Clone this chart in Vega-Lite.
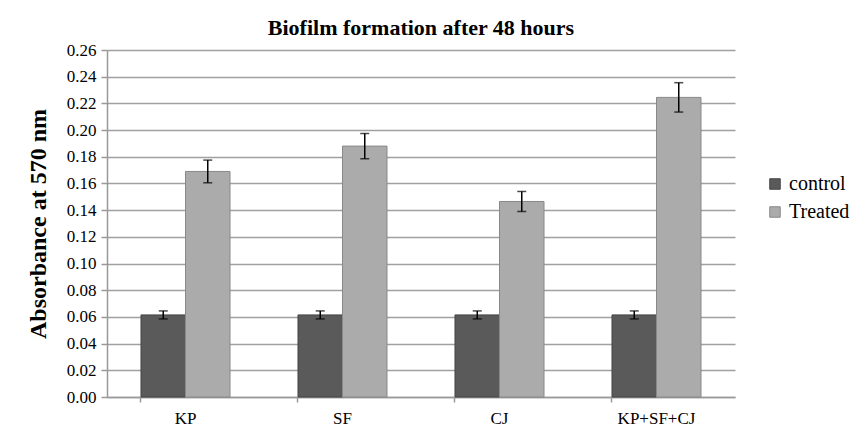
{
  "$schema": "https://vega.github.io/schema/vega-lite/v6.json",
  "width": 628,
  "height": 347,
  "padding": {"left": 26, "top": 17, "right": 5, "bottom": 5},
  "background": "white",
  "title": {"text": "Biofilm formation after 48 hours", "font": "Liberation Serif", "fontSize": 22, "fontWeight": "bold", "color": "#000", "offset": 1},
  "data": {"values": [
    {"group": "KP", "series": "control", "value": 0.0615, "lo": 0.0585, "hi": 0.0645},
    {"group": "KP", "series": "Treated", "value": 0.169, "lo": 0.1605, "hi": 0.1775},
    {"group": "SF", "series": "control", "value": 0.0615, "lo": 0.0585, "hi": 0.0645},
    {"group": "SF", "series": "Treated", "value": 0.188, "lo": 0.1785, "hi": 0.1975},
    {"group": "CJ", "series": "control", "value": 0.0615, "lo": 0.0585, "hi": 0.0645},
    {"group": "CJ", "series": "Treated", "value": 0.1465, "lo": 0.139, "hi": 0.154},
    {"group": "KP+SF+CJ", "series": "control", "value": 0.0615, "lo": 0.0585, "hi": 0.0645},
    {"group": "KP+SF+CJ", "series": "Treated", "value": 0.2245, "lo": 0.2135, "hi": 0.2355}
  ]},
  "encoding": {
    "x": {"field": "group", "type": "nominal", "sort": ["KP", "SF", "CJ", "KP+SF+CJ"],
      "scale": {"paddingInner": 0.433, "paddingOuter": 0.2165},
      "axis": {"title": null, "labelAngle": 0, "labelFont": "Liberation Serif", "labelFontSize": 17, "labelColor": "#000", "ticks": true, "bandPosition": 0, "tickColor": "#999", "tickWidth": 1.5, "tickSize": 5, "domainColor": "#999", "domainWidth": 1.5, "labelPadding": 8}},
    "xOffset": {"field": "series", "type": "nominal", "sort": ["control", "Treated"], "scale": {"paddingInner": 0, "paddingOuter": 0}}
  },
  "layer": [
    {
      "mark": {"type": "bar", "strokeWidth": 1},
      "encoding": {
        "y": {"field": "value", "type": "quantitative", "scale": {"domain": [0, 0.26], "nice": false},
          "axis": {"values": [0, 0.02, 0.04, 0.06, 0.08, 0.1, 0.12, 0.14, 0.16, 0.18, 0.2, 0.22, 0.24, 0.26], "format": ".2f",
            "title": "Absorbance at 570 nm", "titleFont": "Liberation Serif", "titleFontSize": 24, "titleFontWeight": "bold", "titleColor": "#000", "titlePadding": 16,
            "labelFont": "Liberation Serif", "labelFontSize": 17, "labelColor": "#000", "labelPadding": 5,
            "grid": true, "gridColor": "#a0a0a0", "gridWidth": 1.5, "domainColor": "#999", "domainWidth": 1.5, "tickColor": "#999", "tickSize": 6, "tickWidth": 1.5}},
        "color": {"field": "series", "type": "nominal", "sort": ["control", "Treated"],
          "scale": {"domain": ["control", "Treated"], "range": ["#5a5a5a", "#ababab"]},
          "legend": {"title": null, "orient": "none", "legendX": 658, "legendY": 124, "symbolType": "square", "symbolSize": 110, "symbolStrokeColor": "#444", "symbolStrokeWidth": 1,
            "labelFont": "Liberation Serif", "labelFontSize": 20, "labelColor": "#000", "rowPadding": 8, "labelOffset": 4}},
        "stroke": {"field": "series", "type": "nominal", "scale": {"domain": ["control", "Treated"], "range": ["#444444", "#888888"]}, "legend": null}
      }
    },
    {
      "mark": {"type": "rule", "color": "#000", "strokeWidth": 1.5},
      "encoding": {"y": {"field": "lo", "type": "quantitative",
          "axis": {"values": [0, 0.02, 0.04, 0.06, 0.08, 0.1, 0.12, 0.14, 0.16, 0.18, 0.2, 0.22, 0.24, 0.26], "format": ".2f",
            "title": "Absorbance at 570 nm", "titleFont": "Liberation Serif", "titleFontSize": 24, "titleFontWeight": "bold", "titleColor": "#000", "titlePadding": 16,
            "labelFont": "Liberation Serif", "labelFontSize": 17, "labelColor": "#000", "labelPadding": 5,
            "grid": true, "gridColor": "#a0a0a0", "gridWidth": 1.5, "domainColor": "#999", "domainWidth": 1.5, "tickColor": "#999", "tickSize": 6, "tickWidth": 1.5}},
        "y2": {"field": "hi"}}
    },
    {
      "mark": {"type": "tick", "color": "#000", "thickness": 1.5, "size": 9},
      "encoding": {"y": {"field": "lo", "type": "quantitative",
          "axis": {"values": [0, 0.02, 0.04, 0.06, 0.08, 0.1, 0.12, 0.14, 0.16, 0.18, 0.2, 0.22, 0.24, 0.26], "format": ".2f",
            "title": "Absorbance at 570 nm", "titleFont": "Liberation Serif", "titleFontSize": 24, "titleFontWeight": "bold", "titleColor": "#000", "titlePadding": 16,
            "labelFont": "Liberation Serif", "labelFontSize": 17, "labelColor": "#000", "labelPadding": 5,
            "grid": true, "gridColor": "#a0a0a0", "gridWidth": 1.5, "domainColor": "#999", "domainWidth": 1.5, "tickColor": "#999", "tickSize": 6, "tickWidth": 1.5}}}
    },
    {
      "mark": {"type": "tick", "color": "#000", "thickness": 1.5, "size": 9},
      "encoding": {"y": {"field": "hi", "type": "quantitative",
          "axis": {"values": [0, 0.02, 0.04, 0.06, 0.08, 0.1, 0.12, 0.14, 0.16, 0.18, 0.2, 0.22, 0.24, 0.26], "format": ".2f",
            "title": "Absorbance at 570 nm", "titleFont": "Liberation Serif", "titleFontSize": 24, "titleFontWeight": "bold", "titleColor": "#000", "titlePadding": 16,
            "labelFont": "Liberation Serif", "labelFontSize": 17, "labelColor": "#000", "labelPadding": 5,
            "grid": true, "gridColor": "#a0a0a0", "gridWidth": 1.5, "domainColor": "#999", "domainWidth": 1.5, "tickColor": "#999", "tickSize": 6, "tickWidth": 1.5}}}
    }
  ],
  "config": {"font": "Liberation Serif", "view": {"stroke": null}, "axis": {"labelFont": "Liberation Serif", "titleFont": "Liberation Serif"}, "legend": {"labelFont": "Liberation Serif"}}
}
